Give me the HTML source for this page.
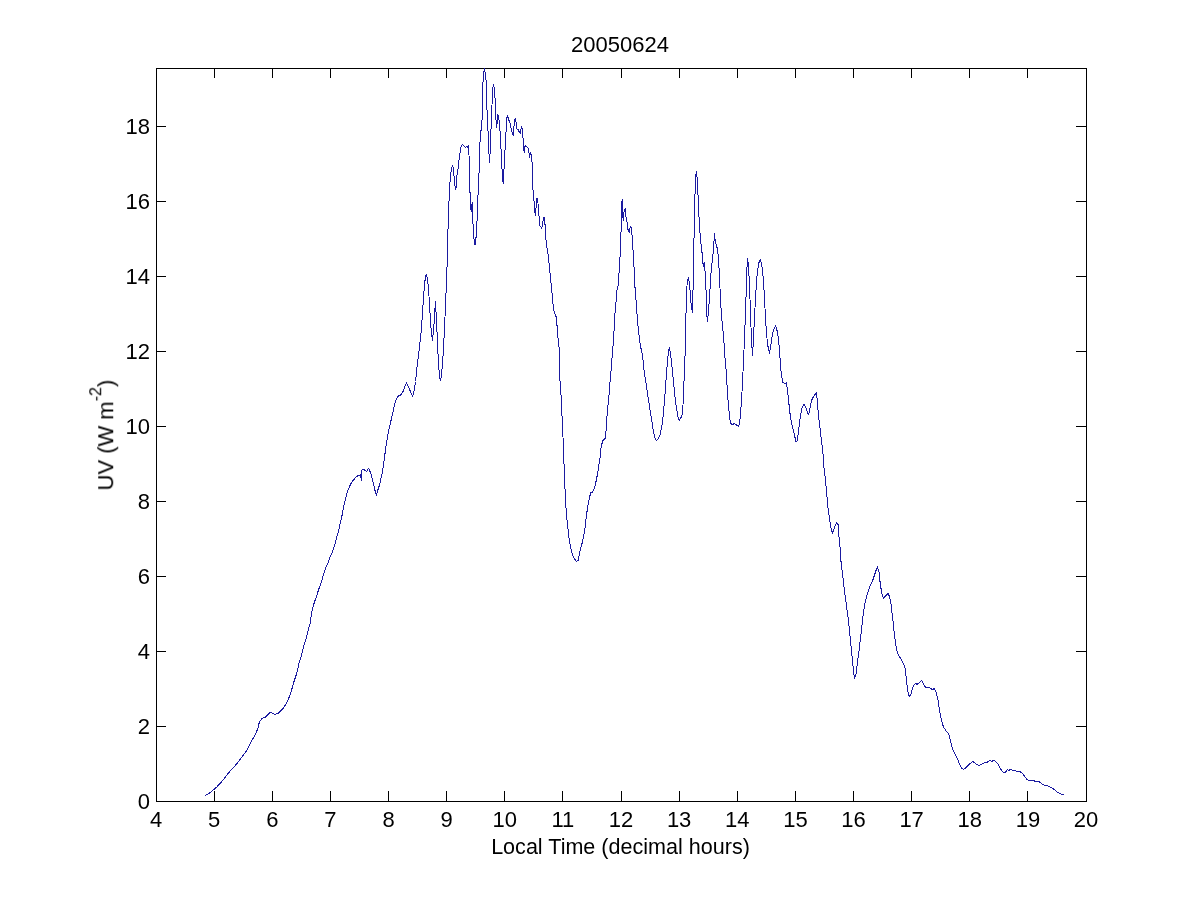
<!DOCTYPE html>
<html><head><meta charset="utf-8"><style>
html,body{margin:0;padding:0;background:#fff;}
svg{display:block;}
text{font-family:"Liberation Sans",sans-serif;font-size:22px;fill:#000;}
</style></head><body>
<svg width="1200" height="900" viewBox="0 0 1200 900">
<rect x="0" y="0" width="1200" height="900" fill="#fff"/>
<g fill="#000" shape-rendering="crispEdges">
<rect x="156" y="68" width="931" height="1"/>
<rect x="156" y="801" width="931" height="1"/>
<rect x="156" y="68" width="1" height="734"/>
<rect x="1086" y="68" width="1" height="734"/>
<rect x="156" y="791" width="1" height="11"/>
<rect x="156" y="68" width="1" height="10"/>
<rect x="214" y="791" width="1" height="11"/>
<rect x="214" y="68" width="1" height="10"/>
<rect x="272" y="791" width="1" height="11"/>
<rect x="272" y="68" width="1" height="10"/>
<rect x="330" y="791" width="1" height="11"/>
<rect x="330" y="68" width="1" height="10"/>
<rect x="388" y="791" width="1" height="11"/>
<rect x="388" y="68" width="1" height="10"/>
<rect x="446" y="791" width="1" height="11"/>
<rect x="446" y="68" width="1" height="10"/>
<rect x="504" y="791" width="1" height="11"/>
<rect x="504" y="68" width="1" height="10"/>
<rect x="562" y="791" width="1" height="11"/>
<rect x="562" y="68" width="1" height="10"/>
<rect x="621" y="791" width="1" height="11"/>
<rect x="621" y="68" width="1" height="10"/>
<rect x="679" y="791" width="1" height="11"/>
<rect x="679" y="68" width="1" height="10"/>
<rect x="737" y="791" width="1" height="11"/>
<rect x="737" y="68" width="1" height="10"/>
<rect x="795" y="791" width="1" height="11"/>
<rect x="795" y="68" width="1" height="10"/>
<rect x="853" y="791" width="1" height="11"/>
<rect x="853" y="68" width="1" height="10"/>
<rect x="911" y="791" width="1" height="11"/>
<rect x="911" y="68" width="1" height="10"/>
<rect x="969" y="791" width="1" height="11"/>
<rect x="969" y="68" width="1" height="10"/>
<rect x="1027" y="791" width="1" height="11"/>
<rect x="1027" y="68" width="1" height="10"/>
<rect x="1086" y="791" width="1" height="11"/>
<rect x="1086" y="68" width="1" height="10"/>
<rect x="156" y="801" width="10" height="1"/>
<rect x="1076" y="801" width="11" height="1"/>
<rect x="156" y="726" width="10" height="1"/>
<rect x="1076" y="726" width="11" height="1"/>
<rect x="156" y="651" width="10" height="1"/>
<rect x="1076" y="651" width="11" height="1"/>
<rect x="156" y="576" width="10" height="1"/>
<rect x="1076" y="576" width="11" height="1"/>
<rect x="156" y="501" width="10" height="1"/>
<rect x="1076" y="501" width="11" height="1"/>
<rect x="156" y="426" width="10" height="1"/>
<rect x="1076" y="426" width="11" height="1"/>
<rect x="156" y="351" width="10" height="1"/>
<rect x="1076" y="351" width="11" height="1"/>
<rect x="156" y="276" width="10" height="1"/>
<rect x="1076" y="276" width="11" height="1"/>
<rect x="156" y="201" width="10" height="1"/>
<rect x="1076" y="201" width="11" height="1"/>
<rect x="156" y="126" width="10" height="1"/>
<rect x="1076" y="126" width="11" height="1"/>
</g>
<g style="filter:grayscale(1)">
<text transform="translate(156.00,827.00) scale(1.0,1.03)" text-anchor="middle">4</text>
<text transform="translate(214.12,827.00) scale(1.0,1.03)" text-anchor="middle">5</text>
<text transform="translate(272.25,827.00) scale(1.0,1.03)" text-anchor="middle">6</text>
<text transform="translate(330.38,827.00) scale(1.0,1.03)" text-anchor="middle">7</text>
<text transform="translate(388.50,827.00) scale(1.0,1.03)" text-anchor="middle">8</text>
<text transform="translate(446.62,827.00) scale(1.0,1.03)" text-anchor="middle">9</text>
<text transform="translate(504.75,827.00) scale(1.0,1.03)" text-anchor="middle">10</text>
<text transform="translate(562.88,827.00) scale(1.0,1.03)" text-anchor="middle">11</text>
<text transform="translate(621.00,827.00) scale(1.0,1.03)" text-anchor="middle">12</text>
<text transform="translate(679.12,827.00) scale(1.0,1.03)" text-anchor="middle">13</text>
<text transform="translate(737.25,827.00) scale(1.0,1.03)" text-anchor="middle">14</text>
<text transform="translate(795.38,827.00) scale(1.0,1.03)" text-anchor="middle">15</text>
<text transform="translate(853.50,827.00) scale(1.0,1.03)" text-anchor="middle">16</text>
<text transform="translate(911.62,827.00) scale(1.0,1.03)" text-anchor="middle">17</text>
<text transform="translate(969.75,827.00) scale(1.0,1.03)" text-anchor="middle">18</text>
<text transform="translate(1027.88,827.00) scale(1.0,1.03)" text-anchor="middle">19</text>
<text transform="translate(1086.00,827.00) scale(1.0,1.03)" text-anchor="middle">20</text>
<text transform="translate(150.00,809.00) scale(1.0,1.03)" text-anchor="end">0</text>
<text transform="translate(150.00,734.00) scale(1.0,1.03)" text-anchor="end">2</text>
<text transform="translate(150.00,659.00) scale(1.0,1.03)" text-anchor="end">4</text>
<text transform="translate(150.00,584.00) scale(1.0,1.03)" text-anchor="end">6</text>
<text transform="translate(150.00,509.00) scale(1.0,1.03)" text-anchor="end">8</text>
<text transform="translate(150.00,434.00) scale(1.0,1.03)" text-anchor="end">10</text>
<text transform="translate(150.00,359.00) scale(1.0,1.03)" text-anchor="end">12</text>
<text transform="translate(150.00,284.00) scale(1.0,1.03)" text-anchor="end">14</text>
<text transform="translate(150.00,209.00) scale(1.0,1.03)" text-anchor="end">16</text>
<text transform="translate(150.00,134.00) scale(1.0,1.03)" text-anchor="end">18</text>
<text transform="translate(620.00,52.00) scale(1.0,1.03)" text-anchor="middle">20050624</text>
<text transform="translate(620.50,854.00) scale(0.98,1.03)" text-anchor="middle">Local Time (decimal hours)</text>
<text transform="translate(113,490.5) rotate(-90) scale(1.0,1.03)">UV (W m<tspan dy="-11" font-size="16px">-2</tspan><tspan dy="11">)</tspan></text>
</g>
<polyline fill="none" stroke="#1a1aa0" stroke-width="1" shape-rendering="crispEdges" stroke-linejoin="miter" points="205.0,795.7 208.3,793.8 210.8,792.1 213.3,790.0 216.7,787.1 219.2,784.2 221.7,781.7 225.0,777.5 227.5,774.2 230.8,770.4 234.2,766.7 237.5,762.9 240.0,759.6 242.5,756.2 245.0,752.9 247.5,749.2 249.6,745.0 251.7,740.8 254.2,736.7 256.2,732.5 257.9,728.3 259.3,722.2 261.6,718.9 263.8,717.2 265.4,717.2 268.2,714.4 270.4,712.2 272.7,713.3 274.9,714.4 278.2,713.3 280.4,711.1 282.7,708.9 284.9,705.6 287.7,701.1 289.3,696.7 291.6,690.0 293.8,682.2 296.0,675.6 297.7,668.9 299.3,662.2 301.0,656.7 302.7,650.0 304.9,642.2 306.6,636.7 308.2,630.0 310.7,621.3 311.3,613.3 312.7,608.0 314.7,601.3 316.7,596.0 318.7,589.3 320.7,584.0 322.7,577.3 324.7,571.3 326.0,567.3 328.0,562.7 330.0,557.3 332.0,552.7 334.0,547.3 335.3,542.7 336.7,537.3 338.7,530.7 340.3,522.9 341.7,517.2 342.8,511.5 343.8,505.8 344.9,501.6 346.0,497.3 347.0,493.0 348.1,489.5 349.5,486.6 350.9,483.8 352.7,480.9 354.5,478.8 356.6,476.7 358.8,475.2 360.2,474.9 360.9,476.7 361.3,481.3 362.0,469.6 363.0,469.2 365.2,470.3 366.5,471.5 368.5,468.5 369.5,470.0 371.5,475.5 373.5,484.0 375.5,492.5 376.5,494.5 377.5,491.0 379.5,485.0 381.5,476.0 382.5,471.7 383.5,464.5 384.5,457.3 385.5,450.0 386.5,442.8 387.5,436.7 388.5,431.1 389.5,426.7 390.5,422.8 391.5,418.3 392.5,413.9 393.5,409.5 394.5,405.0 395.5,401.1 396.5,398.5 397.5,397.0 398.5,396.0 399.5,395.0 400.5,395.0 401.5,394.0 402.5,392.5 403.5,390.5 404.5,387.5 405.5,384.5 406.5,383.0 407.5,385.0 408.5,386.5 409.5,389.0 410.5,392.0 411.5,394.5 412.5,396.0 413.5,393.5 414.5,388.5 415.5,381.5 416.5,372.0 417.5,362.7 418.5,354.7 419.5,346.7 420.5,338.0 421.5,327.3 422.5,313.3 423.5,297.3 424.5,284.3 425.5,277.0 426.3,274.0 427.5,279.3 428.5,288.7 429.5,304.0 430.5,321.3 431.5,333.3 432.5,340.5 433.5,330.7 434.5,318.0 435.4,301.5 436.5,320.0 437.5,343.3 438.5,364.0 439.5,376.0 440.5,381.0 441.5,374.7 442.5,364.0 443.5,348.0 444.5,328.0 445.5,305.7 446.5,281.0 447.2,262.0 447.7,237.7 448.6,212.3 449.4,191.0 450.3,177.7 451.3,169.7 452.3,165.4 453.4,168.3 454.3,179.0 455.3,188.3 455.7,190.3 456.3,185.7 457.0,175.0 457.9,169.7 458.7,161.7 459.7,155.0 460.6,148.3 461.7,145.0 462.7,144.3 464.0,146.3 465.7,147.7 466.7,146.3 467.7,147.7 468.3,145.0 469.0,155.0 469.7,189.7 470.3,195.0 471.0,209.7 471.7,212.3 472.1,202.3 472.6,213.7 473.4,233.7 474.3,241.7 475.0,245.0 475.7,241.7 476.3,233.7 477.4,213.7 478.3,185.7 479.3,168.3 479.7,151.0 480.3,135.0 480.4,131.2 481.6,129.8 482.3,113.0 483.0,82.2 484.1,69.6 484.6,69.0 485.1,72.4 486.1,80.8 486.9,107.4 487.9,128.4 488.6,146.6 489.6,163.4 490.3,148.0 491.1,127.0 491.8,110.2 492.5,92.0 493.4,83.6 494.2,87.8 495.2,100.4 495.9,118.6 496.7,128.4 497.7,114.4 498.7,117.2 499.8,127.0 500.9,146.6 501.9,167.6 502.6,177.4 503.3,184.4 504.0,169.0 504.7,153.6 505.3,146.7 505.4,132.7 506.2,131.9 506.6,118.7 507.4,116.3 508.2,117.9 508.9,120.2 509.7,121.8 510.5,125.7 511.3,129.5 512.1,131.9 512.8,134.2 513.4,135.0 513.8,129.5 514.4,121.0 515.2,118.7 515.9,121.0 516.5,127.2 517.1,129.5 518.0,129.5 518.7,131.1 519.4,131.9 520.2,133.4 520.8,130.3 521.4,126.4 522.2,128.8 522.7,137.3 523.3,138.9 523.7,149.0 524.3,152.9 524.9,146.7 525.7,145.9 526.8,146.7 527.8,147.4 528.6,149.8 529.2,154.4 529.5,157.5 530.3,152.9 531.1,154.4 531.7,160.7 532.3,163.0 532.7,180.0 533.3,198.9 534.1,201.1 534.7,211.1 535.6,215.6 536.3,203.3 537.1,197.8 538.0,203.3 538.6,214.4 539.1,216.7 539.7,225.6 540.8,226.7 541.6,227.8 542.4,225.6 543.0,221.1 544.1,216.7 544.9,222.2 545.6,236.7 546.9,247.8 547.8,252.2 549.1,263.3 550.2,274.4 551.3,285.6 552.4,296.7 553.6,310.0 555.0,314.4 556.7,317.8 557.2,330.0 559.0,346.7 559.7,376.0 561.0,394.7 561.9,413.3 563.0,437.3 563.3,445.6 563.9,461.0 564.4,475.0 564.8,481.0 565.3,498.5 566.5,514.4 567.6,526.0 569.0,537.6 570.3,546.0 572.1,553.4 574.3,558.7 576.4,561.3 578.0,560.8 579.2,555.5 580.6,548.1 582.2,542.9 583.8,535.5 585.1,527.0 586.2,517.5 587.2,510.1 588.3,503.8 589.6,497.5 590.6,492.7 592.2,492.2 593.8,489.5 595.4,484.8 596.4,479.5 597.5,474.2 598.3,468.9 600.0,457.8 601.1,446.7 602.8,440.6 605.6,437.8 606.3,426.7 607.2,413.3 608.3,402.2 609.4,391.1 610.2,380.0 611.3,368.4 612.4,352.9 613.7,338.9 614.4,321.8 615.5,306.2 616.2,300.0 616.8,290.7 618.3,284.8 619.1,272.0 619.9,260.3 620.6,244.0 621.1,230.0 621.4,202.0 622.2,200.8 622.6,211.3 623.2,221.3 623.8,212.5 624.6,210.2 625.5,209.0 626.1,218.3 627.3,223.0 627.8,228.8 628.8,231.8 629.6,232.3 630.2,226.5 631.3,227.7 631.9,233.5 632.7,245.2 633.7,260.3 634.6,279.0 635.4,295.3 636.0,300.0 636.6,310.0 637.0,314.0 638.5,331.1 640.0,343.3 641.3,350.0 642.7,356.7 644.0,370.0 646.0,383.3 648.0,396.7 650.0,410.0 652.0,422.0 653.3,431.3 654.9,438.0 656.3,440.7 658.0,438.7 660.0,435.3 661.5,428.0 662.5,421.7 663.5,412.2 664.5,400.5 665.5,387.2 666.5,373.3 667.5,361.1 668.5,351.7 669.3,347.2 670.5,353.8 671.5,361.3 672.5,371.3 673.5,382.2 674.5,392.2 675.5,401.1 676.5,408.3 677.5,414.4 678.5,419.0 679.5,420.0 680.5,418.5 681.5,416.7 682.5,413.3 683.5,396.0 684.5,367.0 685.5,346.4 685.8,321.0 686.5,295.0 687.2,282.0 688.5,277.0 689.2,283.0 690.0,290.0 690.8,302.0 691.8,308.0 692.5,313.0 692.8,291.0 693.5,288.0 693.5,250.0 693.8,241.0 694.5,230.0 694.8,194.0 695.5,193.0 695.8,175.0 696.5,171.0 697.0,177.0 697.8,193.0 698.5,200.0 699.0,217.0 699.8,232.0 700.8,238.0 701.2,250.0 702.2,253.0 702.8,263.0 703.5,267.0 704.2,262.0 704.8,270.0 705.5,272.0 706.2,296.0 706.8,315.0 707.5,322.0 708.2,314.0 709.2,302.0 710.2,286.0 711.2,270.0 712.5,259.0 713.5,250.0 714.5,233.0 715.3,242.0 716.5,246.0 717.5,249.0 718.5,258.0 719.5,277.0 720.5,299.5 721.5,315.5 722.5,326.0 723.5,336.0 724.2,346.0 724.9,356.8 726.1,369.7 726.9,383.7 727.8,397.7 729.0,410.5 730.2,422.2 731.9,425.1 734.3,423.3 736.6,425.1 738.5,426.5 739.5,424.0 740.5,414.5 741.5,400.5 742.5,383.0 743.5,361.0 744.5,339.0 745.5,312.5 746.5,283.0 747.2,262.0 747.6,258.5 748.4,265.0 749.5,284.0 750.5,314.5 751.5,340.0 752.3,353.0 752.6,356.0 753.5,337.5 754.5,317.8 755.5,297.8 756.5,282.0 757.5,271.4 758.5,264.5 759.5,260.5 760.2,259.4 760.7,260.5 761.5,264.0 762.5,270.0 763.5,281.0 764.5,298.3 765.5,317.8 766.5,333.3 767.5,343.3 768.5,349.5 769.5,352.5 770.5,348.4 771.5,340.6 772.5,334.5 773.5,330.0 774.5,327.5 775.5,326.0 776.5,328.1 777.5,332.8 778.5,339.5 779.5,349.5 780.5,366.9 781.7,376.7 782.9,382.2 784.8,383.4 786.2,382.8 787.2,387.7 788.2,396.2 789.4,408.5 790.6,418.2 792.1,425.6 793.3,430.5 794.6,435.4 795.8,441.5 797.0,441.5 798.2,434.1 799.2,425.6 800.4,415.8 801.9,408.5 803.4,404.8 804.6,404.8 806.2,408.5 807.8,413.3 808.6,414.6 809.8,409.7 811.1,402.3 812.3,398.7 814.1,395.6 816.3,393.2 817.2,398.7 818.0,409.7 819.0,419.5 820.5,431.7 821.5,441.5 822.7,448.8 823.8,465.7 825.4,479.1 826.6,492.6 827.8,506.0 829.4,518.2 830.9,528.0 832.4,532.9 834.0,529.2 835.2,525.6 836.8,522.5 838.0,524.4 838.8,535.4 840.1,547.6 840.9,560.6 842.8,576.1 844.6,591.7 846.7,607.2 848.7,622.8 850.2,638.3 851.8,653.9 853.4,669.4 854.4,678.7 856.0,674.1 857.6,661.6 859.6,646.1 861.4,630.5 863.3,613.4 865.3,601.0 867.7,593.2 870.0,586.2 873.1,579.2 875.7,571.4 877.3,566.8 878.9,571.4 880.1,582.3 881.7,593.2 883.5,597.9 885.5,596.3 887.9,593.2 889.4,596.3 891.0,604.1 892.5,616.5 893.8,629.0 895.0,638.9 896.1,646.7 897.2,652.2 898.9,655.6 901.1,659.4 903.3,663.3 905.0,667.8 906.1,676.7 907.2,686.7 908.3,694.4 909.2,696.4 910.8,694.4 912.2,688.9 913.7,685.6 915.2,683.6 917.2,684.2 918.9,683.3 920.3,681.7 921.4,680.6 922.8,682.2 924.4,685.6 926.1,687.8 927.8,687.2 929.4,687.6 931.1,688.9 932.8,689.4 934.1,688.7 935.6,691.1 936.7,694.4 938.1,700.0 939.0,707.1 940.3,714.2 941.7,721.3 943.4,726.7 946.1,731.1 948.8,734.2 950.1,739.1 951.4,745.3 953.2,750.7 955.4,755.1 957.7,759.6 959.9,764.9 962.1,768.9 963.9,769.3 966.1,767.6 969.2,764.4 972.8,761.3 975.4,763.6 977.7,764.9 979.9,765.3 982.6,763.6 985.2,762.2 987.4,762.2 989.7,760.4 991.9,761.2 994.6,760.4 997.2,763.1 999.0,765.8 1000.8,769.3 1001.8,770.8 1003.5,772.3 1005.5,772.3 1006.4,770.8 1007.3,769.3 1008.8,770.5 1010.5,769.3 1012.3,770.2 1015.5,770.5 1016.9,771.4 1019.5,771.4 1021.3,772.5 1023.3,774.6 1025.1,777.2 1026.8,779.3 1028.6,780.4 1033.3,780.4 1035.0,781.3 1038.5,781.5 1040.3,782.5 1042.6,784.2 1044.3,785.4 1047.3,785.6 1049.0,786.5 1051.5,787.5 1052.5,788.5 1054.5,789.5 1055.5,790.5 1056.5,791.5 1058.0,792.5 1060.0,793.5 1062.0,794.5 1063.5,794.5 1064.5,795.5"/>
</svg>
</body></html>
